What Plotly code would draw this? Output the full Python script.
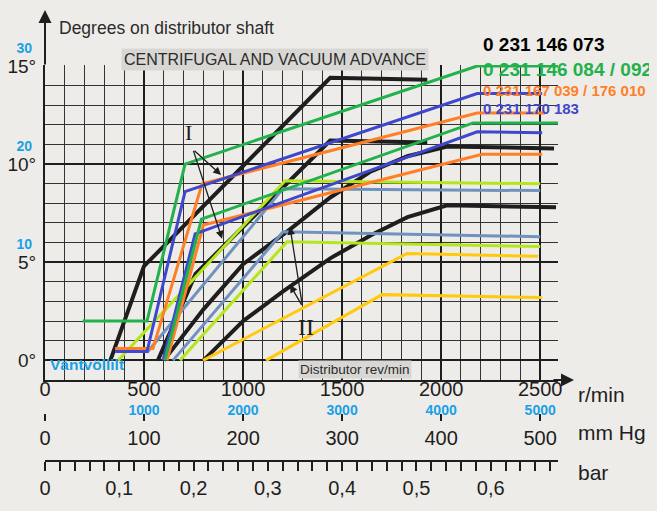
import plotly.graph_objects as go

# values: distributor rev/min -> degrees on distributor shaft
# printed black curves (I = centrifugal, II = vacuum)
black_1_rpm = [330, 500, 1440, 1930]
black_1_deg = [0, 4.8, 14.4, 14.3]
black_2_rpm = [570, 760, 1440, 1930]
black_2_deg = [0, 4.4, 11.2, 11.1]
black_3_rpm = [600, 800, 1000, 1240, 1440, 1640, 1830, 2030, 2570]
black_3_deg = [0, 2.6, 4.9, 6.7, 8.3, 9.6, 10.4, 10.9, 10.8]
black_4_rpm = [800, 1000, 1200, 1440, 1650, 1830, 2030, 2580]
black_4_deg = [0, 2.0, 3.5, 5.2, 6.4, 7.3, 7.9, 7.8]

# hand drawn coloured curves
green_1_rpm = [190, 515, 707, 2182, 2611]
green_1_deg = [2.0, 2.0, 10.0, 15.0, 15.0]
green_2_rpm = [605, 790, 2162, 2590]
green_2_deg = [0, 7.2, 12.1, 12.1]
orange_1_rpm = [354, 545, 793, 2182, 2525]
orange_1_deg = [0.6, 0.6, 9.0, 12.6, 12.6]
orange_2_rpm = [616, 800, 2207, 2510]
orange_2_deg = [0, 6.9, 10.5, 10.5]
blue_1_rpm = [354, 515, 707, 2182, 2510]
blue_1_deg = [0.45, 0.45, 8.6, 13.6, 13.6]
blue_2_rpm = [596, 758, 2182, 2510]
blue_2_deg = [0, 6.45, 11.65, 11.6]
lime_1_rpm = [369, 1212, 2500]
lime_1_deg = [0, 9.15, 9.0]
lime_2_rpm = [682, 1222, 2500]
lime_2_deg = [0, 6.05, 5.8]
steel_1_rpm = [515, 1202, 2500]
steel_1_deg = [0.4, 8.75, 8.65]
steel_2_rpm = [646, 1202, 2500]
steel_2_deg = [0, 6.55, 6.3]
gold_1_rpm = [798, 1828, 2490]
gold_1_deg = [0, 5.45, 5.3]
gold_2_rpm = [1116, 1702, 2510]
gold_2_deg = [0, 3.35, 3.2]

rpm_ticks = [0, 500, 1000, 1500, 2000, 2500]
engine_ticks = ["", "1000", "2000", "3000", "4000", "5000"]
crank_deg_ticks = ["", "10", "20", "30"]
part_numbers = ["0 231 146 073", "0 231 146 084 / 092",
                "0 231 167 039 / 176 010", "0 231 170 183"]

# the page puts the plot 8px in from the top left corner
OFF = 8
W, H = 657 - OFF, 511 - OFF
ML, MR, MT, MB = 45 - OFF, 99, 65 - OFF, 5
PW, PH = W - ML - MR, H - MT - MB


def px(x):
    # page pixel -> paper x
    return (x - OFF - ML) / PW


def py(y):
    # page pixel -> paper y
    return (H - MB - (y - OFF)) / PH


SANS = "Liberation Sans, Arial, sans-serif"
BG = "#eeece8"
INK = "#1e1e1e"
SKY = "#1aa0e6"

fig = go.Figure()

for xs, ys in [(black_1_rpm, black_1_deg), (black_2_rpm, black_2_deg),
               (black_3_rpm, black_3_deg), (black_4_rpm, black_4_deg)]:
    fig.add_trace(go.Scatter(x=xs, y=ys, mode="lines",
                             line=dict(color=INK, width=4)))

colored = [
    (gold_2_rpm, gold_2_deg, "#ffc90e"), (gold_1_rpm, gold_1_deg, "#ffc90e"),
    (lime_2_rpm, lime_2_deg, "#b5e61d"), (steel_2_rpm, steel_2_deg, "#7092be"),
    (lime_1_rpm, lime_1_deg, "#b5e61d"), (steel_1_rpm, steel_1_deg, "#7092be"),
    (orange_2_rpm, orange_2_deg, "#ff7f27"), (blue_2_rpm, blue_2_deg, "#3f48cc"),
    (green_2_rpm, green_2_deg, "#22b14c"),
    (orange_1_rpm, orange_1_deg, "#ff7f27"), (blue_1_rpm, blue_1_deg, "#3f48cc"),
    (green_1_rpm, green_1_deg, "#22b14c"),
]
for xs, ys, c in colored:
    fig.add_trace(go.Scatter(x=xs, y=ys, mode="lines", line=dict(color=c, width=3)))

# empty traces so the extra scale axes get drawn
for xa, ya in [("x2", "y"), ("x3", "y"), ("x4", "y"), ("x5", "y"), ("x", "y2")]:
    fig.add_trace(go.Scatter(x=[None], y=[None], xaxis=xa, yaxis=ya, hoverinfo="skip"))

x_max = 2590
num_font = dict(family=SANS, size=20, color=INK)
fig.update_layout(
    width=W, height=H, margin=dict(l=ML, r=MR, t=MT, b=MB),
    paper_bgcolor=BG, plot_bgcolor=BG, showlegend=False,
    separators=", ",
    xaxis=dict(range=[0, x_max], tick0=0, dtick=500, showgrid=True,
               gridcolor=INK, gridwidth=2.4, zeroline=False, automargin=False,
               showline=True, linecolor=INK, linewidth=2, ticks="",
               showticklabels=False,
               minor=dict(dtick=100, showgrid=True, gridcolor="#333", gridwidth=1.2)),
    yaxis=dict(range=[-1, 15.05], domain=[py(380), 1], tick0=0, dtick=5,
               ticksuffix="°", showgrid=True, gridcolor=INK, gridwidth=2.4,
               zeroline=False, showline=True, linecolor=INK, linewidth=2, ticks="",
               automargin=False, ticklabelstandoff=3,
               tickfont=dict(family=SANS, size=19, color=INK),
               minor=dict(dtick=1, showgrid=True, gridcolor="#333", gridwidth=1.2)),
    yaxis2=dict(overlaying="y", side="left", anchor="x", range=[-1, 15.05],
                tickmode="array", tickvals=[0, 5, 10, 15], ticktext=crank_deg_ticks,
                showgrid=False, zeroline=False, ticks="", ticklabelshift=-18,
                ticklabelstandoff=12, automargin=False,
                tickfont=dict(family=SANS, size=14, color=SKY, weight="bold")),
    # distributor rev/min labels
    xaxis5=dict(overlaying="x", anchor="free", position=py(375), range=[0, x_max],
                tick0=0, dtick=500, showgrid=False, zeroline=False, showline=False,
                ticks="", automargin=False, tickfont=num_font),
    # engine rev/min
    xaxis2=dict(overlaying="x", anchor="free", position=py(400), range=[0, x_max],
                tickmode="array", tickvals=rpm_ticks, ticktext=engine_ticks,
                showgrid=False, zeroline=False, showline=False, ticks="",
                automargin=False,
                tickfont=dict(family=SANS, size=14, color=SKY, weight="bold")),
    # vacuum mm Hg
    xaxis3=dict(overlaying="x", anchor="free", position=py(413), range=[0, x_max / 5],
                tick0=0, dtick=100, showgrid=False, zeroline=False, showline=False,
                ticks="outside", ticklen=7, tickwidth=2, tickcolor=INK,
                automargin=False, tickfont=num_font),
    # vacuum bar
    xaxis4=dict(overlaying="x", anchor="free", position=py(461),
                range=[0, x_max / 5 / 750.06], tick0=0, dtick=0.1,
                showgrid=False, zeroline=False, showline=True, linecolor=INK, linewidth=2,
                ticks="outside", ticklen=9, tickwidth=1.8, tickcolor=INK,
                automargin=False,
                minor=dict(dtick=0.02, ticks="outside", ticklen=9, tickwidth=1.8,
                           tickcolor=INK),
                tickfont=num_font),
)

ann = []
# axis arrows
ann.append(dict(x=0, xref="x", y=py(10), yref="paper", ax=0, ay=56, text="",
                showarrow=True, arrowhead=2, arrowsize=1.3, arrowwidth=2, arrowcolor=INK))
ann.append(dict(x=px(574), xref="paper", y=-1, yref="y", ax=-22, ay=0, text="",
                showarrow=True, arrowhead=2, arrowsize=1.3, arrowwidth=2, arrowcolor=INK))
ann.append(dict(x=px(57), y=py(16), xref="paper", yref="paper", xanchor="left",
                text="Degrees on distributor shaft", showarrow=False,
                font=dict(family=SANS, size=17.5, color="#2b2b2b")))
ann.append(dict(x=px(121), y=py(48), xref="paper", yref="paper", xanchor="left",
                text="CENTRIFUGAL AND VACUUM ADVANCE", showarrow=False,
                bgcolor="#d8d7d4", borderpad=2,
                font=dict(family=SANS, size=16, color="#2b2b2b")))
# part numbers
for txt, yy, col, size in zip(part_numbers, [32, 57, 80, 98],
                              ["#000000", "#22b14c", "#ff7f27", "#3f48cc"],
                              [19, 19, 15, 15]):
    ann.append(dict(x=px(481), y=py(yy), xref="paper", yref="paper", xanchor="left",
                    text=txt, showarrow=False,
                    font=dict(family=SANS, size=size, color=col, weight="bold")))
# unit labels of the bottom scales
for txt, yy in [("r/min", 408), ("mm Hg", 446), ("bar", 486)]:
    ann.append(dict(x=px(576), y=py(yy), xref="paper", yref="paper", xanchor="left",
                    text=txt, showarrow=False,
                    font=dict(family=SANS, size=21, color=INK)))
ann.append(dict(x=px(48), y=py(375), xref="paper", yref="paper", xanchor="left",
                text="Väntvöllilt", showarrow=False,
                font=dict(family=SANS, size=15.5, color=SKY, weight="bold")))
ann.append(dict(x=1566, y=-0.45, xref="x", yref="y", text="Distributor rev/min",
                showarrow=False, bgcolor="#d8d7d4",
                font=dict(family=SANS, size=13.5, color="#2b2b2b")))
# curve markers I and II with their arrows
ann.append(dict(x=722, y=11.6, xref="x", yref="y", text="I", showarrow=False,
                font=dict(family="Liberation Serif, serif", size=22, color=INK)))
for tx, ty in [(889, 9.45), (894, 6.2)]:
    ann.append(dict(x=tx, y=ty, xref="x", yref="y", ax=747, ay=10.75, axref="x",
                    ayref="y", text="", showarrow=True, arrowhead=2, arrowsize=1.2,
                    arrowwidth=1.3, arrowcolor=INK))
ann.append(dict(x=1318, y=1.7, xref="x", yref="y", text="II", showarrow=False,
                font=dict(family="Liberation Serif, serif", size=24, color=INK)))
for tx, ty in [(1237, 6.8), (1237, 3.85)]:
    ann.append(dict(x=tx, y=ty, xref="x", yref="y", ax=1300, ay=2.75, axref="x",
                    ayref="y", text="", showarrow=True, arrowhead=2, arrowsize=1.2,
                    arrowwidth=1.3, arrowcolor=INK))
fig.update_layout(annotations=ann)

# paint the page margin in the same paper tone
fig.write_html("out.html",
               post_script="document.body.style.background='#eeece8';")
